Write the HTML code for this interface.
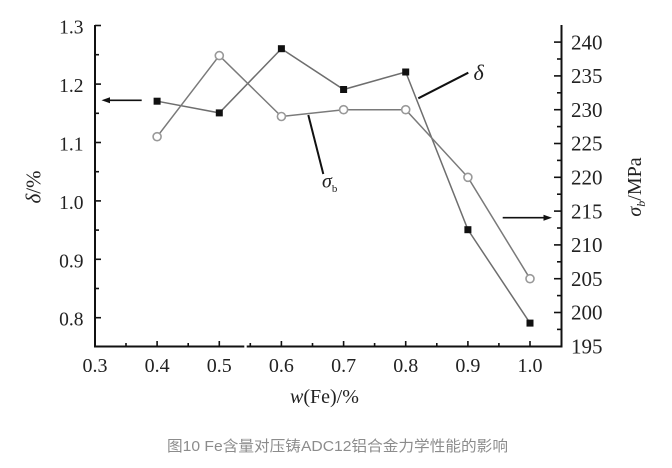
<!DOCTYPE html>
<html>
<head>
<meta charset="utf-8">
<style>
html,body{margin:0;padding:0;background:#fff;}
svg{display:block;}
.t{font-family:"Liberation Serif","Noto Serif CJK SC",serif;fill:#222;}
</style>
</head>
<body>
<svg width="672" height="468" viewBox="0 0 672 468" xmlns="http://www.w3.org/2000/svg">
<rect width="672" height="468" fill="#fff"/>
<!-- axes -->
<g stroke="#111" stroke-width="2" fill="none">
  <path d="M95,25 V346.5 H561.5 V25"/>
</g>
<rect x="244.3" y="344" width="2.4" height="5" fill="#fff"/>
<!-- left ticks -->
<g stroke="#111" stroke-width="1.6">
  <line x1="95" y1="25.5" x2="101" y2="25.5"/>
  <line x1="95" y1="84.1" x2="101" y2="84.1"/>
  <line x1="95" y1="142.5" x2="101" y2="142.5"/>
  <line x1="95" y1="200.9" x2="101" y2="200.9"/>
  <line x1="95" y1="259.3" x2="101" y2="259.3"/>
  <line x1="95" y1="317.7" x2="101" y2="317.7"/>
  <line x1="95" y1="54.7" x2="99" y2="54.7"/>
  <line x1="95" y1="113.3" x2="99" y2="113.3"/>
  <line x1="95" y1="171.7" x2="99" y2="171.7"/>
  <line x1="95" y1="230.1" x2="99" y2="230.1"/>
  <line x1="95" y1="288.5" x2="99" y2="288.5"/>
</g>
<!-- bottom ticks -->
<g stroke="#111" stroke-width="1.6">
  <line x1="157.1" y1="346.5" x2="157.1" y2="341"/>
  <line x1="219.3" y1="346.5" x2="219.3" y2="341"/>
  <line x1="281.4" y1="346.5" x2="281.4" y2="341"/>
  <line x1="343.6" y1="346.5" x2="343.6" y2="341"/>
  <line x1="405.7" y1="346.5" x2="405.7" y2="341"/>
  <line x1="467.9" y1="346.5" x2="467.9" y2="341"/>
  <line x1="530" y1="346.5" x2="530" y2="341"/>
  <line x1="126" y1="346.5" x2="126" y2="343"/>
  <line x1="188.2" y1="346.5" x2="188.2" y2="343"/>
  <line x1="250.3" y1="346.5" x2="250.3" y2="343"/>
  <line x1="312.5" y1="346.5" x2="312.5" y2="343"/>
  <line x1="374.6" y1="346.5" x2="374.6" y2="343"/>
  <line x1="436.8" y1="346.5" x2="436.8" y2="343"/>
  <line x1="498.9" y1="346.5" x2="498.9" y2="343"/>
</g>
<!-- right ticks -->
<g stroke="#111" stroke-width="1.6">
  <line x1="561.5" y1="42.1" x2="554" y2="42.1"/>
  <line x1="561.5" y1="75.9" x2="554" y2="75.9"/>
  <line x1="561.5" y1="109.7" x2="554" y2="109.7"/>
  <line x1="561.5" y1="143.5" x2="554" y2="143.5"/>
  <line x1="561.5" y1="177.3" x2="554" y2="177.3"/>
  <line x1="561.5" y1="211.1" x2="554" y2="211.1"/>
  <line x1="561.5" y1="244.9" x2="554" y2="244.9"/>
  <line x1="561.5" y1="278.7" x2="554" y2="278.7"/>
  <line x1="561.5" y1="312.5" x2="554" y2="312.5"/>
  <line x1="561.5" y1="59" x2="557" y2="59"/>
  <line x1="561.5" y1="92.8" x2="557" y2="92.8"/>
  <line x1="561.5" y1="126.6" x2="557" y2="126.6"/>
  <line x1="561.5" y1="160.4" x2="557" y2="160.4"/>
  <line x1="561.5" y1="194.2" x2="557" y2="194.2"/>
  <line x1="561.5" y1="228" x2="557" y2="228"/>
  <line x1="561.5" y1="261.8" x2="557" y2="261.8"/>
  <line x1="561.5" y1="295.6" x2="557" y2="295.6"/>
  <line x1="561.5" y1="329.4" x2="557" y2="329.4"/>
</g>
<!-- left tick labels -->
<g class="t" font-size="19.5" text-anchor="end">
  <text x="83.5" y="33.5">1.3</text>
  <text x="83.5" y="92">1.2</text>
  <text x="83.5" y="150.5">1.1</text>
  <text x="83.5" y="209">1.0</text>
  <text x="83.5" y="267.3">0.9</text>
  <text x="83.5" y="325.7">0.8</text>
</g>
<!-- bottom tick labels -->
<g class="t" font-size="20" text-anchor="middle">
  <text x="95" y="372">0.3</text>
  <text x="157.1" y="372">0.4</text>
  <text x="219.3" y="372">0.5</text>
  <text x="281.4" y="372">0.6</text>
  <text x="343.6" y="372">0.7</text>
  <text x="405.7" y="372">0.8</text>
  <text x="467.9" y="372">0.9</text>
  <text x="530" y="372">1.0</text>
</g>
<!-- right tick labels -->
<g class="t" font-size="21">
  <text x="571" y="49.3">240</text>
  <text x="571" y="83.1">235</text>
  <text x="571" y="116.9">230</text>
  <text x="571" y="150.7">225</text>
  <text x="571" y="184.5">220</text>
  <text x="571" y="218.3">215</text>
  <text x="571" y="252.1">210</text>
  <text x="571" y="285.9">205</text>
  <text x="571" y="319.7">200</text>
  <text x="571" y="353.5">195</text>
</g>
<!-- axis titles -->
<text class="t" font-size="20" x="290" y="403"><tspan font-style="italic">w</tspan>(Fe)/%</text>
<text class="t" font-size="21" transform="translate(40.5,187) rotate(-90)" text-anchor="middle"><tspan font-style="italic">δ</tspan>/%</text>
<text class="t" font-size="20" transform="translate(641,187) rotate(-90)" text-anchor="middle"><tspan font-style="italic">σ</tspan><tspan font-size="12" dy="4" font-style="italic">b</tspan><tspan dy="-4">/MPa</tspan></text>
<!-- series lines -->
<polyline fill="none" stroke="#6e6e6e" stroke-width="1.5" points="157.1,101.2 219.3,112.9 281.4,48.7 343.6,89.5 405.7,72 467.9,229.7 530,323.1"/>
<polyline fill="none" stroke="#7a7a7a" stroke-width="1.5" points="157.1,136.7 219.3,55.6 281.4,116.5 343.6,109.7 405.7,109.7 467.9,177.3 530,278.7"/>
<!-- squares -->
<g fill="#111">
  <rect x="153.6" y="97.7" width="7" height="7"/>
  <rect x="215.8" y="109.4" width="7" height="7"/>
  <rect x="277.9" y="45.2" width="7" height="7"/>
  <rect x="340.1" y="86" width="7" height="7"/>
  <rect x="402.2" y="68.5" width="7" height="7"/>
  <rect x="464.4" y="226.2" width="7" height="7"/>
  <rect x="526.5" y="319.6" width="7" height="7"/>
</g>
<!-- circles -->
<g fill="#fff" stroke="#999" stroke-width="1.6">
  <circle cx="157.1" cy="136.7" r="4"/>
  <circle cx="219.3" cy="55.6" r="4"/>
  <circle cx="281.4" cy="116.5" r="4"/>
  <circle cx="343.6" cy="109.7" r="4"/>
  <circle cx="405.7" cy="109.7" r="4"/>
  <circle cx="467.9" cy="177.3" r="4"/>
  <circle cx="530" cy="278.7" r="4"/>
</g>
<!-- annotation lines -->
<g stroke="#111" stroke-width="2">
  <line x1="418.3" y1="98.3" x2="468.3" y2="72.7"/>
  <line x1="308.3" y1="115" x2="323.3" y2="174"/>
  <line x1="141.7" y1="100.3" x2="108" y2="100.3" stroke-width="1.6"/>
  <line x1="502.7" y1="217.7" x2="545" y2="217.7" stroke-width="1.6"/>
</g>
<polygon points="101.5,100.3 110,97.3 110,103.3" fill="#111"/>
<polygon points="552,217.7 543.5,214.7 543.5,220.7" fill="#111"/>
<text class="t" font-size="22" font-style="italic" x="473.5" y="80">δ</text>
<text class="t" font-size="20" x="322" y="187.5"><tspan font-style="italic">σ</tspan><tspan font-size="11" dy="4.5">b</tspan></text>
<!-- caption -->
<text x="167" y="451" font-size="15" fill="#8c8c8c" textLength="341" lengthAdjust="spacingAndGlyphs" font-family="'Liberation Sans','Noto Sans CJK SC',sans-serif">图10 Fe含量对压铸ADC12铝合金力学性能的影响</text>
</svg>
</body>
</html>
